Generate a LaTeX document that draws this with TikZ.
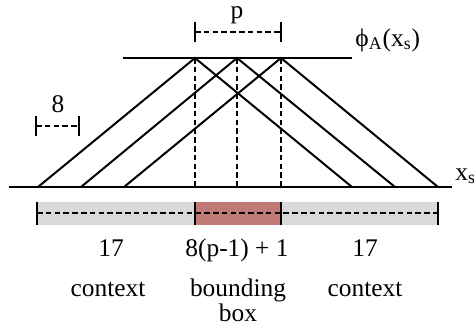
\documentclass[tikz,border=0pt]{standalone}
\usepackage{fontspec}
\setmainfont{Liberation Serif}
\usetikzlibrary{positioning, calc}

\definecolor{ctxgray}{RGB}{217,217,217}
\definecolor{boxred}{RGB}{192,122,118}

\begin{document}
\begin{tikzpicture}[
        x=0.5pt, y=-0.5pt,
        % Define styles for lines and labels
        axis/.style={line width=1pt},
        ray/.style={line width=1pt},
        guide/.style={line width=1pt, dash pattern=on 2.8pt off 1.6pt},
        tick/.style={line width=1pt},
        lbl/.style={font=\fontsize{12.7}{12.5}\selectfont, inner sep=0pt, align=center}
    ]
    \useasboundingbox (0,0) rectangle (474,327);

    % --- Axes ---
    \coordinate (tl) at (123,58);
    \coordinate (tr) at (352,58);
    \coordinate (xl) at (9,187);
    \coordinate (xr) at (452,187);
    \draw [axis] (tl) -- (tr);
    \draw [axis] (xl) -- (xr);

    % Apex points on the top line
    \coordinate (a1) at (195,58);
    \coordinate (a2) at (237,58);
    \coordinate (a3) at (281,58);

    % Base points on the bottom line
    \coordinate (l1) at (38,187);
    \coordinate (l2) at (81,187);
    \coordinate (l3) at (124,187);
    \coordinate (r1) at (352,187);
    \coordinate (r2) at (395,187);
    \coordinate (r3) at (438,187);

    % --- Rays ---
    \draw [ray] (l1) -- (a1) -- (r1);
    \draw [ray] (l2) -- (a2) -- (r2);
    \draw [ray] (l3) -- (a3) -- (r3);

    % Dashed drops
    \draw [guide] (a1) -- (a1 |- xl);
    \draw [guide] (a2) -- (a2 |- xl);
    \draw [guide] (a3) -- (a3 |- xl);

    % --- Axis labels ---
    \node [lbl, anchor=base west] (phi) at (355,46) {ϕ\textsubscript{A}(x\textsubscript{s})};
    \node [lbl, anchor=base west] (xs) at (455,180) {x\textsubscript{s}};

    % --- p bracket ---
    \coordinate (p1) at (195,32);
    \coordinate (p2) at (281,32);
    \draw [guide] (p1) -- (p2);
    \draw [tick] ($(p1)+(0,-10)$) -- ($(p1)+(0,10)$);
    \draw [tick] ($(p2)+(0,-10)$) -- ($(p2)+(0,10)$);
    \node [lbl, anchor=base] (plbl) at (237,18) {p};

    % --- 8 bracket ---
    \coordinate (s1) at (36,126);
    \coordinate (s2) at (79,126);
    \draw [guide] (s1) -- (s2);
    \draw [tick] ($(s1)+(0,-10)$) -- ($(s1)+(0,10)$);
    \draw [tick] ($(s2)+(0,-10)$) -- ($(s2)+(0,10)$);
    \node [lbl, anchor=base] (slbl) at (58,112) {8};

    % --- Receptive field bar ---
    \fill [ctxgray] (37,202) rectangle (438,225);
    \fill [boxred] (195,202) rectangle (281,225);
    \coordinate (b0) at (37,213);
    \coordinate (b1) at (195,213);
    \coordinate (b2) at (281,213);
    \coordinate (b3) at (438,213);
    \draw [guide] (b0) -- (b3);
    \foreach \b in {b0,b1,b2,b3}
        \draw [tick] ($(\b)+(0,-11)$) -- ($(\b)+(0,12)$);

    % --- Bar labels ---
    \node [lbl, anchor=base] (n1) at (111,256) {17};
    \node [lbl, anchor=base] (n2) at (237,256) {8(p-1) + 1};
    \node [lbl, anchor=base] (n3) at (365,256) {17};
    \node [lbl, anchor=base] (c1) at (108,296) {context};
    \node [lbl, anchor=base] (c2) at (238,321) {bounding\\box};
    \node [lbl, anchor=base] (c3) at (365,296) {context};

\end{tikzpicture}
\end{document}
